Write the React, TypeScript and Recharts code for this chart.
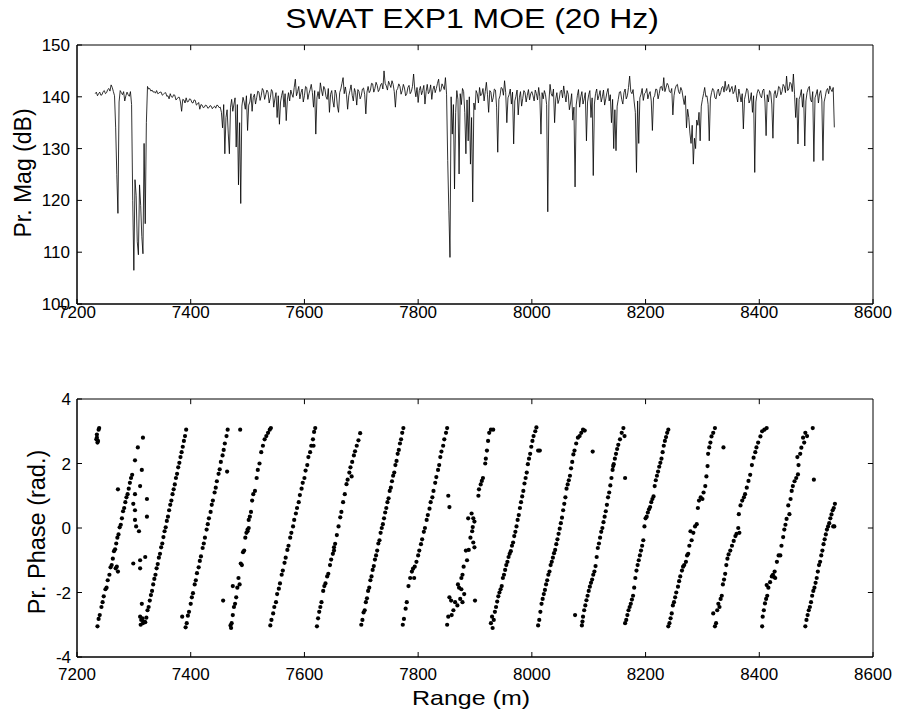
import React from "react";
import {
  LineChart, Line, ScatterChart, Scatter, XAxis, YAxis, ReferenceArea, ReferenceLine,
} from "recharts";

const FONT = "'Liberation Sans', Arial, Helvetica, sans-serif";

const rangeTicks = [7200, 7400, 7600, 7800, 8000, 8200, 8400, 8600];
const magTicks = [100, 110, 120, 130, 140, 150];
const phaseTicks = [-4, -2, 0, 2, 4];

// magnitude samples, one every 2 m, grouped in 100 m blocks
const sampleStep = 2;
const mag7200 = [140.6, 140.9, 140.2, 140.6, 140.9, 140.3, 140.4, 141.0, 141.2, 140.6, 140.8, 141.4, 141.6, 141.1, 142.3, 141.8, 141.0, 140.2, 134.0, 125.0, 117.5, 139.0, 141.2, 140.8, 140.4, 141.0, 139.2, 140.2, 140.9, 140.4, 140.1, 141.0, 138.5, 120.0]; // from 7232
const mag7300 = [106.5, 124.0, 121.0, 112.0, 109.5, 123.0, 119.0, 113.0, 109.7, 131.0, 115.5, 135.0, 142.0, 141.5, 141.6, 141.1, 141.3, 140.9, 141.0, 140.7, 141.2, 140.6, 140.7, 140.9, 140.9, 140.3, 140.5, 140.7, 140.8, 140.1, 140.2, 139.6, 140.6, 140.0, 139.9, 140.4, 140.3, 139.4, 139.6, 139.9, 139.9, 139.0, 137.2, 139.5, 139.4, 138.8, 139.8, 139.0, 139.1, 139.6];
const mag7400 = [139.5, 138.9, 138.8, 139.4, 139.3, 138.4, 138.6, 138.9, 137.6, 138.5, 138.4, 137.9, 138.0, 138.4, 138.3, 137.8, 137.9, 138.3, 138.2, 137.7, 138.0, 138.2, 137.8, 138.4, 138.3, 137.9, 138.0, 137.0, 134.0, 138.5, 129.0, 136.0, 137.5, 133.0, 129.0, 138.0, 139.5, 137.2, 138.6, 139.8, 130.3, 138.5, 123.0, 135.0, 119.4, 138.2, 139.9, 139.0, 137.6, 140.2];
const mag7500 = [133.5, 138.4, 139.0, 140.6, 137.2, 139.9, 140.5, 138.6, 139.8, 141.1, 140.9, 139.3, 140.2, 141.6, 141.2, 139.5, 140.4, 141.3, 140.9, 138.8, 139.8, 141.4, 141.0, 138.0, 139.6, 140.8, 136.0, 140.2, 134.7, 139.0, 140.3, 141.2, 138.0, 140.6, 135.4, 139.4, 140.8, 139.2, 141.3, 140.5, 139.9, 141.8, 143.4, 140.2, 141.0, 142.0, 139.6, 140.8, 141.5, 139.0];
const mag7600 = [140.2, 142.0, 141.8, 139.5, 140.6, 141.4, 142.4, 140.8, 138.0, 141.2, 132.8, 139.8, 141.0, 139.6, 142.7, 141.3, 140.2, 142.0, 141.5, 140.0, 139.5, 141.6, 137.0, 140.5, 141.2, 139.2, 138.0, 141.3, 140.6, 138.2, 137.0, 140.8, 141.5, 142.6, 143.7, 140.6, 141.9, 140.4, 137.6, 140.2, 141.2, 142.3, 140.3, 139.2, 141.6, 140.8, 138.4, 141.4, 141.0, 139.6];
const mag7700 = [140.2, 141.5, 141.7, 140.4, 136.7, 140.9, 142.0, 140.8, 141.2, 142.6, 142.5, 140.9, 141.6, 142.8, 142.2, 141.0, 141.4, 142.3, 142.6, 141.5, 145.0, 142.6, 142.1, 141.3, 143.0, 142.4, 141.8, 143.1, 142.4, 141.0, 138.0, 141.2, 141.6, 142.5, 142.0, 140.5, 141.2, 142.4, 141.7, 140.2, 140.6, 141.8, 142.2, 140.6, 141.0, 142.0, 144.4, 141.5, 140.0, 141.8];
const mag7800 = [138.9, 141.2, 142.0, 140.4, 141.2, 142.2, 138.6, 141.0, 142.4, 140.6, 141.0, 142.3, 139.5, 141.4, 142.1, 140.8, 141.6, 142.6, 143.4, 141.0, 141.2, 142.5, 142.0, 141.4, 143.7, 140.5, 127.7, 118.0, 109.0, 140.0, 132.8, 138.5, 122.2, 137.0, 141.2, 139.5, 125.1, 140.6, 138.5, 141.6, 141.0, 137.0, 129.0, 139.4, 131.5, 140.0, 127.0, 136.0, 119.7, 138.8];
const mag7900 = [137.5, 141.2, 140.6, 138.8, 141.8, 140.2, 140.5, 141.6, 139.2, 141.0, 142.8, 140.4, 137.0, 141.2, 140.9, 139.0, 139.8, 141.5, 141.3, 138.0, 129.3, 139.5, 140.2, 141.8, 141.6, 140.3, 143.1, 140.8, 135.0, 139.8, 140.4, 141.5, 138.6, 140.9, 130.9, 139.2, 140.1, 141.3, 136.5, 139.8, 141.0, 138.2, 139.7, 141.2, 140.8, 139.0, 140.3, 141.4, 139.4, 140.6];
const mag8000 = [141.0, 140.2, 139.2, 141.3, 140.6, 139.4, 141.8, 140.0, 132.8, 140.8, 139.6, 141.2, 140.4, 138.5, 117.8, 139.0, 142.4, 140.6, 140.1, 141.5, 135.0, 139.6, 140.8, 138.7, 139.5, 141.0, 141.3, 139.8, 142.1, 140.4, 139.0, 141.2, 140.5, 137.5, 138.8, 140.6, 135.5, 138.0, 122.6, 138.4, 140.2, 141.4, 138.0, 140.0, 141.0, 138.6, 139.6, 140.8, 131.5, 139.0];
const mag8100 = [140.4, 141.2, 136.0, 139.8, 124.8, 138.6, 140.6, 141.5, 139.4, 140.2, 141.2, 139.0, 140.0, 141.3, 138.4, 139.6, 140.8, 141.6, 139.2, 140.4, 135.0, 139.5, 130.0, 137.5, 129.6, 138.2, 139.5, 140.9, 141.0, 139.5, 138.6, 140.8, 141.5, 139.6, 140.2, 141.8, 144.0, 141.0, 140.6, 141.4, 139.0, 137.0, 125.4, 139.2, 131.0, 139.8, 140.5, 141.6, 139.3, 140.6];
const mag8200 = [140.8, 141.6, 139.6, 140.5, 141.0, 139.2, 133.5, 139.8, 140.2, 141.5, 141.4, 139.6, 140.6, 141.9, 142.0, 141.2, 143.7, 141.0, 141.8, 142.6, 142.2, 141.0, 140.8, 141.6, 136.5, 140.2, 141.5, 142.2, 142.4, 141.0, 140.6, 141.8, 141.2, 139.8, 138.5, 140.2, 134.0, 137.6, 136.0, 133.0, 131.0, 134.5, 127.0, 132.0, 130.0, 135.5, 134.5, 137.0, 131.5, 138.2];
const mag8300 = [139.5, 140.6, 141.8, 140.0, 140.2, 138.5, 131.5, 139.6, 140.8, 141.6, 141.2, 139.8, 139.6, 141.0, 141.5, 140.2, 140.8, 141.8, 142.0, 140.9, 143.0, 141.2, 141.6, 142.4, 140.9, 141.5, 142.0, 140.6, 141.0, 142.2, 140.2, 139.0, 141.5, 140.4, 139.0, 140.6, 133.8, 139.5, 140.5, 141.6, 141.2, 138.8, 139.4, 140.8, 137.0, 140.2, 125.4, 139.0, 140.6, 141.4];
const mag8400 = [141.0, 140.2, 139.8, 141.2, 141.5, 139.0, 132.5, 140.4, 139.0, 141.2, 140.8, 138.6, 132.0, 140.5, 141.2, 139.8, 140.5, 142.0, 141.8, 140.4, 141.0, 142.4, 142.0, 140.8, 144.0, 141.2, 141.5, 142.8, 142.5, 141.0, 144.4, 140.5, 136.0, 139.8, 130.9, 139.5, 140.2, 141.4, 138.0, 140.6, 130.5, 139.2, 140.8, 141.6, 142.0, 139.5, 139.0, 141.0, 127.5, 139.8];
const mag8500 = [140.5, 141.4, 138.8, 140.6, 141.2, 139.4, 127.7, 139.0, 140.0, 141.2, 141.6, 140.6, 142.1, 141.4, 141.0, 141.8, 134.1];

const magBlocks: [number, number[]][] = [
  [7232, mag7200], [7300, mag7300], [7400, mag7400], [7500, mag7500], [7600, mag7600],
  [7700, mag7700], [7800, mag7800], [7900, mag7900], [8000, mag8000], [8100, mag8100],
  [8200, mag8200], [8300, mag8300], [8400, mag8400], [8500, mag8500],
];

// phase points [range m, phase rad], one list per wrap
const phaseRun00 = [[7234, 2.75], [7235, 2.9], [7236, 2.65], [7237, 2.7], [7238, 3.05], [7239, 3.1], [7235, 2.8]];
const phaseRun01 = [[7236, -3.05], [7238, -2.82], [7240, -2.7], [7243, -2.45], [7245, -2.3], [7247, -2.12], [7250, -1.9], [7252, -1.85], [7254, -1.62], [7257, -1.45], [7259, -1.22], [7261, -1.15], [7263, -0.95], [7265, -0.72], [7267, -0.66], [7269, -0.48], [7271, -0.3], [7273, -0.2], [7275, 0.02], [7277, 0.1], [7279, 0.3], [7281, 0.52], [7283, 0.62], [7285, 0.8], [7287, 0.95], [7289, 1.05], [7291, 1.22], [7293, 1.4], [7295, 1.55], [7297, 1.65], [7270, -1.2], [7272, -1.35], [7268, -1.25], [7272, 1.2]];
const phaseLoose = [[7316, 2.8], [7307, 2.5], [7302, 2.1], [7314, 1.8], [7311, 1.3], [7302, 1.05], [7323, 0.9], [7299, 0.75], [7302, 0.55], [7323, 0.35], [7302, 0.25], [7304, 0.05], [7309, -0.1], [7320, -0.9], [7311, -1.0], [7299, -1.1], [7311, -1.25], [7314, -2.35], [7311, -2.75], [7313, -2.85], [7316, -2.95], [7318, -2.9], [7312, -3.0], [7315, -2.8]];
const phaseRun02 = [[7320, -2.92], [7322, -2.78], [7324, -2.55], [7326, -2.45], [7328, -2.25], [7330, -2.08], [7332, -1.95], [7334, -1.75], [7336, -1.58], [7338, -1.45], [7340, -1.25], [7342, -1.12], [7344, -0.92], [7346, -0.8], [7348, -0.6], [7350, -0.48], [7352, -0.28], [7354, -0.1], [7356, 0.02], [7358, 0.22], [7360, 0.35], [7362, 0.55], [7364, 0.72], [7366, 0.85], [7368, 1.05], [7370, 1.2], [7372, 1.35], [7374, 1.55], [7376, 1.68], [7378, 1.88], [7380, 2.02], [7382, 2.2], [7384, 2.35], [7386, 2.52], [7388, 2.7], [7390, 2.85], [7392, 3.05]];
const phaseRun03 = [[7385, -2.75], [7391, -3.08], [7393, -2.95], [7395, -2.72], [7397, -2.6], [7400, -2.35], [7402, -2.15], [7404, -2.02], [7407, -1.75], [7409, -1.62], [7411, -1.4], [7414, -1.22], [7416, -1.02], [7418, -0.88], [7421, -0.62], [7423, -0.48], [7425, -0.3], [7428, -0.05], [7430, 0.12], [7432, 0.3], [7435, 0.5], [7437, 0.72], [7439, 0.85], [7442, 1.1], [7444, 1.25], [7446, 1.45], [7449, 1.68], [7451, 1.82], [7453, 2.05], [7456, 2.25], [7458, 2.42], [7460, 2.62], [7463, 2.85], [7465, 3.05], [7464, 1.75]];
const phaseRun04 = [[7457, -2.25], [7470, -3.02], [7472, -2.95], [7471, -3.1], [7474, -2.7], [7476, -2.45], [7474, -1.8], [7478, -2.35], [7480, -2.15], [7482, -1.85], [7484, -1.55], [7486, -1.75], [7488, -1.1], [7490, -1.15], [7492, -0.75], [7494, -0.7], [7496, -0.3], [7498, -0.15], [7500, -0.05], [7502, 0.25], [7504, 0.35], [7506, 0.5], [7508, 0.85], [7510, 1.05], [7513, 1.15], [7516, 1.55], [7518, 1.8], [7521, 2.0], [7524, 2.35], [7527, 2.55], [7530, 2.75], [7533, 2.85], [7536, 2.95], [7539, 3.05], [7541, 3.1], [7487, 3.05], [7500, -0.1], [7502, 0.0]];
const phaseRun05 = [[7540, -3.02], [7542, -2.85], [7545, -2.65], [7547, -2.45], [7550, -2.3], [7552, -2.05], [7555, -1.88], [7557, -1.72], [7560, -1.45], [7562, -1.32], [7565, -1.08], [7567, -0.92], [7570, -0.68], [7572, -0.55], [7575, -0.3], [7577, -0.15], [7580, 0.05], [7582, 0.25], [7585, 0.45], [7587, 0.62], [7590, 0.8], [7592, 1.02], [7595, 1.22], [7597, 1.4], [7600, 1.55], [7602, 1.78], [7605, 1.95], [7607, 2.2], [7610, 2.35], [7612, 2.55], [7615, 2.75], [7617, 2.98], [7619, 3.1], [7616, 2.55]];
const phaseRun06 = [[7622, -3.05], [7624, -2.8], [7626, -2.6], [7628, -2.45], [7630, -2.3], [7633, -1.95], [7635, -1.8], [7637, -1.72], [7640, -1.5], [7642, -1.42], [7645, -1.15], [7647, -0.98], [7650, -0.8], [7652, -0.6], [7654, -0.49], [7657, -0.22], [7660, 0.05], [7663, 0.33], [7665, 0.5], [7668, 0.8], [7671, 1.05], [7674, 1.36], [7676, 1.5], [7679, 1.72], [7681, 1.88], [7684, 2.05], [7687, 2.25], [7689, 2.38], [7692, 2.55], [7695, 2.72], [7698, 2.94], [7683, 1.6], [7652, -0.7]];
const phaseRun07 = [[7700, -3.0], [7702, -2.85], [7704, -2.62], [7706, -2.55], [7708, -2.3], [7710, -2.18], [7712, -1.95], [7714, -1.85], [7716, -1.62], [7718, -1.5], [7720, -1.3], [7722, -1.18], [7724, -0.98], [7726, -0.85], [7728, -0.7], [7730, -0.48], [7732, -0.38], [7734, -0.15], [7736, 0.0], [7738, 0.12], [7740, 0.3], [7742, 0.48], [7744, 0.62], [7746, 0.8], [7748, 0.92], [7750, 1.15], [7752, 1.25], [7754, 1.45], [7756, 1.62], [7758, 1.72], [7760, 1.95], [7762, 2.08], [7764, 2.3], [7766, 2.42], [7768, 2.62], [7770, 2.75], [7772, 2.95], [7774, 3.1]];
const phaseRun08 = [[7773, -3.0], [7775, -2.82], [7778, -2.5], [7780, -2.3], [7783, -1.8], [7786, -1.55], [7789, -1.35], [7791, -1.26], [7794, -1.2], [7797, -1.05], [7800, -0.85], [7802, -0.7], [7805, -0.5], [7807, -0.35], [7810, -0.12], [7812, 0.0], [7815, 0.25], [7817, 0.4], [7820, 0.6], [7822, 0.8], [7825, 0.95], [7827, 1.15], [7830, 1.4], [7832, 1.58], [7835, 1.8], [7837, 1.95], [7839, 2.2], [7841, 2.37], [7844, 2.55], [7846, 2.75], [7849, 2.95], [7851, 3.1], [7793, -1.55]];
const phaseRun09 = [[7851, -3.0], [7853, -2.75], [7859, -2.7], [7862, -2.55], [7855, -2.15], [7858, -2.25], [7865, -2.3], [7869, -2.4], [7874, -2.2], [7878, -2.3], [7881, -2.05], [7872, -1.85], [7870, -1.75], [7876, -1.9], [7876, -1.55], [7878, -1.45], [7880, -1.2], [7886, -1.0], [7884, -0.7], [7889, -0.68], [7892, -0.3], [7895, -0.1], [7888, 0.3], [7894, 0.45], [7897, 0.3], [7899, 0.2], [7896, 0.03], [7897, -0.45], [7899, -0.6], [7906, 1.0], [7907, 1.2], [7910, 1.35], [7912, 1.46], [7914, 1.55], [7918, 2.0], [7919, 2.15], [7921, 2.4], [7923, 2.7], [7925, 2.95], [7928, 3.05], [7932, 3.05], [7900, -2.25], [7853, 1.0], [7855, 0.65]];
const phaseRun10 = [[7928, -2.95], [7930, -2.75], [7931, -3.1], [7933, -2.85], [7935, -2.6], [7937, -2.45], [7939, -2.28], [7941, -2.12], [7943, -2.0], [7945, -1.9], [7947, -1.8], [7949, -1.55], [7951, -1.45], [7953, -1.3], [7955, -1.15], [7957, -1.05], [7959, -0.9], [7961, -0.8], [7963, -0.72], [7965, -0.55], [7967, -0.45], [7969, -0.25], [7971, -0.12], [7973, 0.05], [7975, 0.25], [7977, 0.4], [7979, 0.62], [7981, 0.8], [7983, 0.98], [7985, 1.15], [7987, 1.38], [7989, 1.55], [7991, 1.72], [7993, 1.98], [7995, 2.15], [7997, 2.3], [7999, 2.52], [8001, 2.7], [8003, 2.85], [8006, 3.0], [8008, 3.12], [8011, 2.4], [8014, 2.4]];
const phaseRun11 = [[8011, -3.02], [8013, -2.85], [8015, -2.6], [8017, -2.35], [8019, -2.2], [8021, -2.05], [8023, -1.92], [8025, -1.75], [8027, -1.62], [8029, -1.45], [8031, -1.35], [8033, -1.15], [8035, -1.05], [8037, -0.92], [8039, -0.78], [8041, -0.68], [8043, -0.5], [8045, -0.35], [8047, -0.18], [8049, -0.02], [8051, 0.15], [8053, 0.32], [8055, 0.55], [8057, 0.75], [8059, 0.95], [8061, 1.22], [8063, 1.35], [8065, 1.48], [8067, 1.62], [8069, 1.85], [8071, 2.05], [8073, 2.28], [8075, 2.4], [8078, 2.62], [8081, 2.8], [8084, 2.85], [8087, 2.95], [8090, 3.05], [8093, 3.02], [8107, 2.37]];
const phaseRun12 = [[8076, -2.7], [8088, -3.02], [8089, -2.9], [8090, -2.75], [8092, -2.55], [8094, -2.4], [8096, -2.24], [8098, -2.1], [8100, -1.95], [8102, -1.82], [8104, -1.7], [8106, -1.6], [8108, -1.45], [8110, -1.35], [8112, -1.18], [8114, -0.9], [8116, -0.62], [8118, -0.48], [8120, -0.3], [8122, -0.12], [8124, 0.0], [8126, 0.18], [8128, 0.35], [8130, 0.52], [8132, 0.72], [8134, 0.95], [8136, 1.1], [8138, 1.32], [8140, 1.55], [8142, 1.8], [8143, 1.92], [8144, 1.98], [8146, 2.15], [8148, 2.3], [8150, 2.45], [8152, 2.58], [8155, 2.75], [8158, 2.95], [8161, 3.1], [8164, 1.55], [8163, 2.85]];
const phaseRun13 = [[8164, -2.95], [8166, -2.85], [8168, -2.7], [8170, -2.55], [8172, -2.45], [8174, -2.35], [8176, -2.22], [8178, -2.1], [8180, -1.85], [8182, -1.55], [8184, -1.32], [8186, -1.15], [8188, -1.0], [8190, -0.85], [8192, -0.7], [8194, -0.55], [8196, -0.38], [8198, 0.05], [8200, 0.3], [8202, 0.35], [8204, 0.48], [8206, 0.58], [8208, 0.65], [8210, 0.8], [8212, 0.9], [8214, 0.98], [8216, 1.3], [8218, 1.48], [8220, 1.62], [8222, 1.75], [8224, 1.9], [8226, 2.02], [8228, 2.15], [8230, 2.35], [8232, 2.55], [8234, 2.7], [8236, 2.82], [8238, 2.95], [8240, 3.05]];
const phaseRun14 = [[8240, -3.05], [8242, -2.95], [8244, -2.8], [8246, -2.65], [8248, -2.4], [8250, -2.3], [8252, -2.15], [8254, -2.0], [8257, -1.82], [8259, -1.65], [8261, -1.5], [8264, -1.32], [8266, -1.2], [8268, -1.15], [8271, -1.05], [8273, -0.85], [8275, -0.8], [8277, -0.55], [8279, -0.1], [8281, -0.38], [8284, -0.15], [8287, 0.05], [8290, 0.12], [8292, 0.62], [8294, 0.85], [8297, 0.95], [8300, 0.9], [8302, 1.1], [8305, 1.3], [8307, 1.6], [8309, 1.92], [8310, 2.3], [8312, 2.5], [8314, 2.65], [8316, 2.84], [8319, 2.95], [8322, 3.1], [8337, 2.5]];
const phaseRun15 = [[8319, -2.65], [8322, -3.05], [8324, -2.95], [8326, -2.55], [8328, -2.35], [8330, -2.45], [8332, -2.2], [8334, -2.1], [8336, -1.75], [8338, -1.6], [8340, -1.42], [8342, -1.15], [8344, -0.95], [8346, -0.82], [8349, -0.7], [8352, -0.55], [8355, -0.4], [8358, -0.25], [8360, -0.18], [8363, 0.0], [8365, -0.15], [8364, 0.43], [8367, 0.7], [8370, 0.85], [8373, 0.95], [8375, 1.05], [8378, 1.25], [8381, 1.46], [8384, 1.65], [8387, 1.95], [8390, 2.18], [8393, 2.35], [8395, 2.5], [8398, 2.65], [8402, 2.84], [8405, 3.0], [8409, 3.05], [8413, 3.1]];
const phaseRun16 = [[8405, -3.05], [8406, -2.75], [8408, -2.55], [8410, -2.34], [8412, -2.2], [8414, -2.1], [8413, -1.77], [8416, -1.85], [8419, -1.68], [8422, -1.5], [8424, -1.45], [8426, -1.52], [8428, -1.55], [8427, -1.35], [8431, -1.05], [8434, -0.85], [8437, -0.85], [8439, -0.55], [8442, -0.28], [8444, -0.05], [8446, 0.1], [8448, 0.28], [8451, 0.7], [8453, 0.43], [8455, 0.9], [8457, 1.15], [8459, 1.3], [8462, 1.45], [8465, 1.55], [8468, 1.66], [8469, 1.95], [8467, 2.2], [8472, 2.3], [8474, 2.49], [8477, 2.8], [8479, 2.65], [8481, 2.95], [8484, 2.85], [8494, 3.1], [8496, 1.5]];
const phaseRun17 = [[8481, -3.05], [8483, -2.85], [8485, -2.7], [8487, -2.55], [8489, -2.45], [8491, -2.3], [8493, -2.1], [8495, -1.95], [8497, -1.85], [8499, -1.7], [8501, -1.55], [8503, -1.35], [8505, -1.15], [8507, -1.05], [8509, -0.85], [8511, -0.7], [8513, -0.5], [8515, -0.35], [8517, -0.2], [8519, -0.05], [8521, 0.05], [8523, 0.15], [8525, 0.3], [8527, 0.42], [8529, 0.55], [8531, 0.62], [8533, 0.75], [8532, 0.05], [8530, 0.05]];

const phaseRuns = [
  phaseRun00, phaseRun01, phaseLoose, phaseRun02, phaseRun03, phaseRun04, phaseRun05,
  phaseRun06, phaseRun07, phaseRun08, phaseRun09, phaseRun10, phaseRun11, phaseRun12,
  phaseRun13, phaseRun14, phaseRun15, phaseRun16, phaseRun17,
];

const magData = magBlocks.flatMap(([start, values]) =>
  values.map((mag, i) => ({ range: start + i * sampleStep, mag }))
);
const phaseData = phaseRuns.flatMap((run) => run.map(([range, phase]) => ({ range, phase })));

const tickStyle = { fill: "#000", fontSize: 17, fontFamily: FONT };

const Dot = (props: any) => <circle cx={props.cx} cy={props.cy} r={2.1} fill="#000" />;

// MATLAB-style box: frame plus inward ticks on the top and right edges
function boxMarks(xMin: number, xMax: number, yMin: number, yMax: number,
  yTicks: number[], topLen: number, rightLen: number) {
  return [
    <ReferenceArea key="box" x1={xMin} x2={xMax} y1={yMin} y2={yMax} fill="none"
      stroke="#000" strokeWidth={1} ifOverflow="visible" />,
    ...rangeTicks.slice(1, -1).map((t) => (
      <ReferenceLine key={`t${t}`} segment={[{ x: t, y: yMax }, { x: t, y: yMax - topLen }]}
        stroke="#000" strokeWidth={1} ifOverflow="visible" />
    )),
    ...yTicks.slice(1, -1).map((t) => (
      <ReferenceLine key={`r${t}`} segment={[{ x: xMax, y: t }, { x: xMax - rightLen, y: t }]}
        stroke="#000" strokeWidth={1} ifOverflow="visible" />
    )),
  ];
}

function MagPanel() {
  return (
    <LineChart width={897} height={340} data={magData} margin={{ top: 45, right: 24, bottom: 6, left: 0 }}>
      <XAxis type="number" dataKey="range" domain={[7200, 8600]} ticks={rangeTicks} interval={0}
        allowDataOverflow height={30} tickSize={-5} tickMargin={7} stroke="#000" tick={tickStyle} />
      <YAxis type="number" domain={[100, 150]} ticks={magTicks} interval={0} allowDataOverflow
        width={77} tickSize={-5} tickMargin={12} stroke="#000" tick={tickStyle} />
      {boxMarks(7200, 8600, 100, 150, magTicks, 1, 9)}
      <Line type="linear" dataKey="mag" stroke="#000" strokeWidth={0.8} dot={false} isAnimationActive={false} />
    </LineChart>
  );
}

function PhasePanel() {
  return (
    <ScatterChart width={897} height={367} margin={{ top: 49, right: 24, bottom: 30, left: 0 }}>
      <XAxis type="number" dataKey="range" domain={[7200, 8600]} ticks={rangeTicks} interval={0}
        allowDataOverflow height={30} tickSize={-5} tickMargin={16} stroke="#000" tick={tickStyle} />
      <YAxis type="number" dataKey="phase" domain={[-4, 4]} ticks={phaseTicks} interval={0} allowDataOverflow
        width={77} tickSize={-5} tickMargin={11} stroke="#000" tick={tickStyle} />
      {boxMarks(7200, 8600, -4, 4, phaseTicks, 0.16, 9)}
      <Scatter data={phaseData} shape={Dot} isAnimationActive={false} />
    </ScatterChart>
  );
}

export default function App() {
  return (
    <div style={{ position: "absolute", left: 0, top: 0, width: 897, height: 717, background: "#fff" }}>
      <div style={{ position: "absolute", left: 0, top: 0 }}>
        <MagPanel />
      </div>
      <div style={{ position: "absolute", left: 0, top: 350 }}>
        <PhasePanel />
      </div>
      <svg width={897} height={717} style={{ position: "absolute", left: 0, top: 0, pointerEvents: "none" }}
        fontFamily={FONT} fill="#000">
        <text transform="translate(472,28) scale(1.14,1)" textAnchor="middle" fontSize={28}>
          SWAT EXP1 MOE (20 Hz)
        </text>
        <text transform="translate(31,173) rotate(-90)" textAnchor="middle" fontSize={23}>
          Pr. Mag (dB)
        </text>
        <text transform="translate(45,532) rotate(-90)" textAnchor="middle" fontSize={23.5}>
          Pr. Phase (rad.)
        </text>
        <text transform="translate(471,705) scale(1.19,1)" textAnchor="middle" fontSize={21}>
          Range (m)
        </text>
      </svg>
    </div>
  );
}
